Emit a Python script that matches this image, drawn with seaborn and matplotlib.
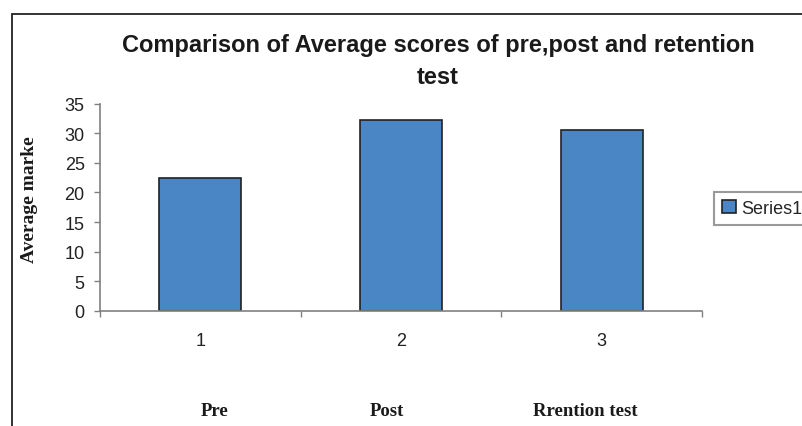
import matplotlib
matplotlib.use("Agg")
import matplotlib.pyplot as plt
import matplotlib.transforms as mtransforms
import seaborn as sns
import pandas as pd
from matplotlib.patches import Rectangle

categories = ["1", "2", "3"]
group_names = ["Pre", "Post", "Rrention test"]
values = [22.5, 32.3, 30.6]
series_name = "Series1"
title = "Comparison of Average scores of pre,post and retention\ntest"
ylabel = "Average marke"

sns.set_theme(style="white")
plt.rcParams['font.family'] = ['Liberation Sans', 'DejaVu Sans']

df = pd.DataFrame({"cat": categories, "val": values})

W, H = 803, 427
fig = plt.figure(figsize=(W / 100, H / 100), dpi=100)
ax = fig.add_axes([100 / W, 1 - 312 / H, 602 / W, 207.5 / H])

sns.barplot(data=df, x="cat", y="val", color="#4A86C5", width=0.41,
            edgecolor="#222222", linewidth=1.2, saturation=1, ax=ax,
            label=series_name)

ax.set_xlim(-0.5, 2.5)
ax.set_ylim(0, 35)
ax.set_yticks(range(0, 36, 5))
ax.set_xlabel("")
ax.set_ylabel("")
for s in ["top", "right"]:
    ax.spines[s].set_visible(False)
for s in ["left", "bottom"]:
    ax.spines[s].set_color("#808080")
    ax.spines[s].set_linewidth(1.2)

ax.tick_params(axis="y", which="major", direction="out", length=4, width=1,
               color="#808080", pad=7, labelsize=13, labelcolor="#222222", left=True)
ax.set_xticks([-0.5, 0.5, 1.5, 2.5], minor=True)
ax.tick_params(axis="x", which="major", length=0, pad=15, labelsize=13,
               labelcolor="#222222")
ax.tick_params(axis="x", which="minor", direction="out", length=4, width=1,
               color="#808080", bottom=True)

# title
fig.text(438 / W, 1 - 62 / H, title, ha="center", va="center",
         fontsize=17, fontweight="bold", color="#1a1a1a", linespacing=1.5,
         multialignment="center")

# y label
fig.text(30 / W, 1 - 200 / H, ylabel, rotation=90, ha="center", va="center",
         fontsize=14, fontweight="bold", family=["Liberation Serif", "DejaVu Serif"],
         color="#1a1a1a")

# group names below
offsets = [0.07, -0.07, -0.08]
trans = mtransforms.blended_transform_factory(ax.transData, fig.transFigure)
for i, (name, off) in enumerate(zip(group_names, offsets)):
    ax.text(i + off, 1 - 412 / H, name, transform=trans,
            ha="center", va="center", fontsize=13.5, fontweight="bold",
            family=["Liberation Serif", "DejaVu Serif"], color="#1a1a1a")

# legend
leg = ax.legend(loc="upper left", bbox_to_anchor=(714 / W, 1 - 193 / H),
                bbox_transform=fig.transFigure, frameon=True, fancybox=False,
                fontsize=13, handlelength=0.75, handleheight=0.75,
                handletextpad=0.3, borderpad=0.45, borderaxespad=0)
leg.get_frame().set_edgecolor("#808080")
leg.get_frame().set_linewidth(1.5)
for h in leg.legend_handles:
    h.set_edgecolor("#222222")
    h.set_linewidth(1.2)

# outer frame
fig.patches.append(Rectangle((12.5 / W, -0.1), 2, 1 - 15 / H + 0.1,
                             transform=fig.transFigure, fill=False,
                             edgecolor="#222222", linewidth=1.3))

fig.savefig("out.png", dpi=100)
